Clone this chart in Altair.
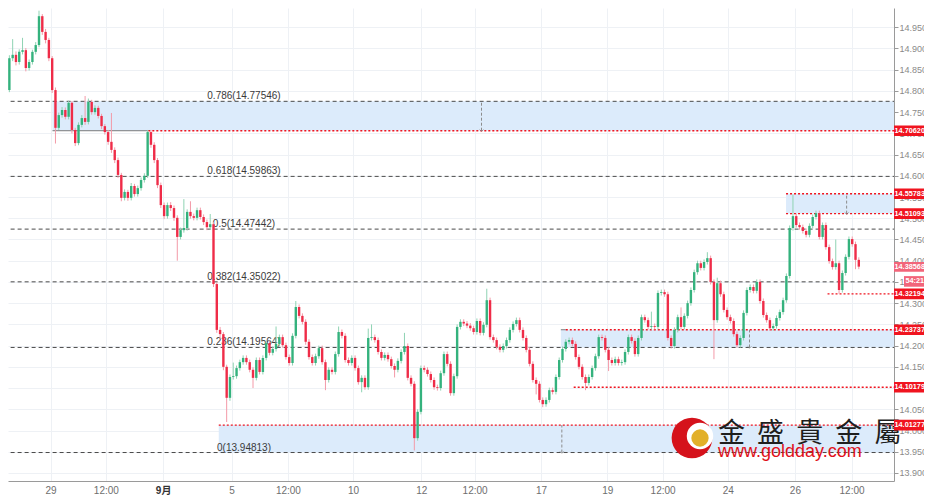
import altair as alt
import pandas as pd

# ---------------- data ----------------
first_open = 14.780
closes = [
    14.802, 14.877, 14.885, 14.868, 14.892, 14.896, 14.854, 14.868, 14.892, 14.908,
    14.976, 14.939, 14.920, 14.877, 14.802, 14.713, 14.743, 14.755, 14.739, 14.772,
    14.708, 14.677, 14.720, 14.736, 14.727, 14.774, 14.750, 14.760, 14.741, 14.717,
    14.703, 14.680, 14.661, 14.637, 14.602, 14.548, 14.562, 14.548, 14.576, 14.557,
    14.571, 14.590, 14.600, 14.703, 14.673, 14.637, 14.578, 14.531, 14.505, 14.531,
    14.524, 14.501, 14.456, 14.472, 14.477, 14.515, 14.505, 14.501, 14.519, 14.503,
    14.491, 14.479, 14.486, 14.345, 14.237, 14.227, 14.150, 14.077, 14.126, 14.128,
    14.147, 14.161, 14.171, 14.161, 14.143, 14.124, 14.166, 14.138, 14.171, 14.206,
    14.183, 14.192, 14.204, 14.220, 14.201, 14.173, 14.159, 14.223, 14.291, 14.270,
    14.256, 14.209, 14.173, 14.159, 14.175, 14.194, 14.161, 14.119, 14.143, 14.138,
    14.180, 14.232, 14.223, 14.166, 14.159, 14.171, 14.147, 14.114, 14.124, 14.102,
    14.218, 14.220, 14.213, 14.185, 14.171, 14.178, 14.168, 14.152, 14.143, 14.164,
    14.185, 14.199, 14.124, 14.110, 13.982, 14.044, 14.147, 14.143, 14.133, 14.119,
    14.102, 14.100, 14.135, 14.180, 14.157, 14.088, 14.128, 14.244, 14.256, 14.252,
    14.247, 14.241, 14.232, 14.258, 14.230, 14.249, 14.307, 14.220, 14.213, 14.197,
    14.190, 14.199, 14.213, 14.237, 14.251, 14.260, 14.237, 14.218, 14.190, 14.157,
    14.119, 14.110, 14.072, 14.062, 14.072, 14.095, 14.091, 14.126, 14.166, 14.192,
    14.209, 14.213, 14.204, 14.173, 14.150, 14.126, 14.112, 14.126, 14.147, 14.175,
    14.220, 14.218, 14.190, 14.166, 14.159, 14.168, 14.159, 14.161, 14.185, 14.220,
    14.211, 14.180, 14.218, 14.267, 14.260, 14.244, 14.246, 14.244, 14.324, 14.326,
    14.321, 14.218, 14.199, 14.237, 14.267, 14.244, 14.270, 14.300, 14.331, 14.373,
    14.394, 14.383, 14.397, 14.406, 14.350, 14.260, 14.347, 14.321, 14.284, 14.267,
    14.258, 14.227, 14.201, 14.218, 14.277, 14.331, 14.338, 14.329, 14.350, 14.305,
    14.272, 14.260, 14.241, 14.246, 14.265, 14.279, 14.307, 14.364, 14.477, 14.505,
    14.484, 14.479, 14.470, 14.461, 14.482, 14.503, 14.512, 14.456, 14.484, 14.432,
    14.399, 14.385, 14.394, 14.331, 14.371, 14.409, 14.451, 14.439, 14.402, 14.386,
]
highs = [
    14.812, 14.884, 14.922, 14.893, 14.898, 14.925, 14.901, 14.874, 14.897, 14.915,
    14.989, 14.981, 14.946, 14.925, 14.882, 14.808, 14.749, 14.762, 14.761, 14.777,
    14.776, 14.713, 14.726, 14.743, 14.788, 14.782, 14.779, 14.766, 14.765, 14.746,
    14.722, 14.708, 14.748, 14.667, 14.643, 14.607, 14.568, 14.567, 14.583, 14.581,
    14.577, 14.596, 14.606, 14.708, 14.708, 14.679, 14.642, 14.584, 14.537, 14.537,
    14.538, 14.530, 14.507, 14.478, 14.545, 14.521, 14.540, 14.511, 14.525, 14.525,
    14.509, 14.497, 14.510, 14.491, 14.350, 14.244, 14.232, 14.155, 14.132, 14.160,
    14.153, 14.167, 14.177, 14.177, 14.167, 14.149, 14.172, 14.172, 14.177, 14.212,
    14.212, 14.198, 14.245, 14.226, 14.226, 14.207, 14.179, 14.229, 14.305, 14.297,
    14.276, 14.262, 14.215, 14.179, 14.181, 14.200, 14.200, 14.167, 14.149, 14.149,
    14.186, 14.245, 14.238, 14.229, 14.172, 14.177, 14.177, 14.153, 14.130, 14.130,
    14.240, 14.250, 14.226, 14.219, 14.191, 14.184, 14.184, 14.174, 14.158, 14.170,
    14.191, 14.230, 14.205, 14.130, 14.116, 14.050, 14.153, 14.153, 14.149, 14.139,
    14.125, 14.108, 14.141, 14.186, 14.186, 14.163, 14.134, 14.250, 14.262, 14.262,
    14.258, 14.253, 14.247, 14.264, 14.264, 14.255, 14.334, 14.313, 14.226, 14.219,
    14.203, 14.205, 14.219, 14.243, 14.257, 14.266, 14.266, 14.243, 14.224, 14.196,
    14.163, 14.125, 14.116, 14.078, 14.078, 14.101, 14.101, 14.132, 14.172, 14.198,
    14.215, 14.219, 14.219, 14.210, 14.179, 14.156, 14.132, 14.132, 14.153, 14.181,
    14.226, 14.226, 14.224, 14.196, 14.172, 14.174, 14.174, 14.167, 14.191, 14.226,
    14.226, 14.217, 14.224, 14.273, 14.273, 14.266, 14.280, 14.252, 14.330, 14.332,
    14.332, 14.327, 14.224, 14.243, 14.273, 14.290, 14.276, 14.306, 14.337, 14.379,
    14.400, 14.400, 14.403, 14.420, 14.412, 14.356, 14.360, 14.353, 14.327, 14.290,
    14.273, 14.264, 14.233, 14.224, 14.283, 14.337, 14.344, 14.344, 14.356, 14.356,
    14.311, 14.278, 14.266, 14.252, 14.271, 14.285, 14.313, 14.370, 14.483, 14.556,
    14.511, 14.490, 14.485, 14.476, 14.488, 14.509, 14.518, 14.518, 14.490, 14.490,
    14.438, 14.405, 14.450, 14.400, 14.377, 14.415, 14.457, 14.457, 14.445, 14.408,
]
lows = [
    14.772, 14.797, 14.870, 14.860, 14.862, 14.886, 14.846, 14.848, 14.862, 14.886,
    14.903, 14.932, 14.912, 14.870, 14.795, 14.676, 14.708, 14.737, 14.733, 14.733,
    14.700, 14.670, 14.672, 14.714, 14.720, 14.721, 14.744, 14.744, 14.735, 14.710,
    14.697, 14.673, 14.654, 14.630, 14.595, 14.540, 14.542, 14.541, 14.542, 14.551,
    14.551, 14.565, 14.584, 14.595, 14.666, 14.630, 14.571, 14.524, 14.498, 14.499,
    14.517, 14.494, 14.400, 14.450, 14.466, 14.471, 14.499, 14.495, 14.495, 14.497,
    14.484, 14.472, 14.473, 14.338, 14.230, 14.215, 14.142, 14.020, 14.070, 14.120,
    14.122, 14.141, 14.155, 14.155, 14.137, 14.100, 14.118, 14.132, 14.132, 14.165,
    14.177, 14.177, 14.186, 14.198, 14.195, 14.167, 14.153, 14.153, 14.217, 14.264,
    14.250, 14.202, 14.167, 14.153, 14.153, 14.169, 14.155, 14.095, 14.113, 14.132,
    14.132, 14.174, 14.217, 14.160, 14.153, 14.153, 14.141, 14.108, 14.090, 14.096,
    14.096, 14.212, 14.207, 14.179, 14.165, 14.165, 14.162, 14.146, 14.125, 14.137,
    14.158, 14.179, 14.118, 14.104, 13.953, 13.976, 14.038, 14.137, 14.127, 14.113,
    14.096, 14.094, 14.094, 14.129, 14.151, 14.082, 14.082, 14.122, 14.238, 14.246,
    14.241, 14.235, 14.226, 14.226, 14.224, 14.224, 14.243, 14.214, 14.207, 14.191,
    14.184, 14.184, 14.193, 14.207, 14.231, 14.245, 14.231, 14.212, 14.184, 14.151,
    14.113, 14.085, 14.066, 14.055, 14.056, 14.066, 14.085, 14.085, 14.120, 14.160,
    14.186, 14.203, 14.198, 14.167, 14.144, 14.120, 14.095, 14.106, 14.120, 14.141,
    14.169, 14.212, 14.184, 14.140, 14.153, 14.153, 14.153, 14.153, 14.155, 14.179,
    14.205, 14.174, 14.174, 14.212, 14.254, 14.238, 14.238, 14.238, 14.238, 14.318,
    14.315, 14.212, 14.193, 14.193, 14.231, 14.238, 14.238, 14.264, 14.294, 14.325,
    14.367, 14.377, 14.377, 14.391, 14.344, 14.168, 14.254, 14.315, 14.278, 14.261,
    14.252, 14.221, 14.195, 14.195, 14.212, 14.271, 14.325, 14.323, 14.323, 14.299,
    14.266, 14.254, 14.235, 14.235, 14.240, 14.259, 14.273, 14.301, 14.358, 14.471,
    14.478, 14.473, 14.464, 14.455, 14.455, 14.476, 14.497, 14.450, 14.450, 14.426,
    14.393, 14.379, 14.379, 14.322, 14.325, 14.365, 14.403, 14.433, 14.380, 14.380,
]

# x-axis tick positions (in candle index units) and their labels
tick_pos = [13.5, 30.3, 47.7, 68.5, 85.6, 105.4, 126.1, 142.3, 162.5, 182.6, 199.4, 219.2, 239.6, 256.8]
tick_labels = ["29", "12:00", "9月", "5", "12:00", "10", "12", "12:00", "17", "19", "12:00", "24", "26", "12:00"]
y_ticks = [13.90, 13.95, 14.00, 14.05, 14.10, 14.15, 14.20, 14.25, 14.30, 14.35, 14.40, 14.45,
           14.50, 14.55, 14.60, 14.65, 14.70, 14.75, 14.80, 14.85, 14.90, 14.95, 15.00]

# Fibonacci retracement levels
fib_ratios = ["1", "0.786", "0.618", "0.5", "0.382", "0.236", "0"]
fib_prices = [15.00071, 14.77546, 14.59863, 14.47442, 14.35022, 14.19564, 13.94813]

# shaded zones (start index, low, high) and their measuring lines
zone_start = [14.1, 236.9, 168.5, 64.6]
zone_lo = [14.70620, 14.51093, 14.19564, 13.94813]
zone_hi = [14.77546, 14.55783, 14.23737, 14.01277]
measure_t = [144.4, 255.3, 225.8, 168.8]

# red dotted levels (price, start index)
level_prices = [14.70620, 14.55783, 14.51093, 14.32194, 14.23737, 14.10179, 14.01277]
level_start = [43.2, 236.9, 236.9, 249.5, 170.0, 172.4, 64.6]

# gray solid segments (start, end, price)
seg_start = [14.1, 168.5]
seg_end = [43.2, 170.0]
seg_price = [14.70620, 14.23737]

last_price = 14.38568
countdown = "54:21"

# ---------------- frames ----------------
n = min(len(closes), len(highs), len(lows))
closes, highs, lows = closes[:n], highs[:n], lows[:n]
opens = [first_open] + closes[:-1]
candles = pd.DataFrame({
    "t": list(range(n)), "open": opens, "high": highs, "low": lows, "close": closes,
})

X_DOM = [2.102, 268.17]
Y_DOM = [13.88104, 14.99529]
T_END = 270.0
xs = alt.Scale(domain=X_DOM, nice=False, zero=False)
ys = alt.Scale(domain=Y_DOM, nice=False, zero=False)

fib = pd.DataFrame({"price": fib_prices, "t0": -5.0, "t1": T_END,
                    "label": [f"{r}({p:.5f})" for r, p in zip(fib_ratios, fib_prices)]})
zones = pd.DataFrame({"t0": zone_start, "t1": T_END, "lo": zone_lo, "hi": zone_hi, "tm": measure_t})
levels = pd.DataFrame({"price": level_prices, "t0": level_start, "t1": T_END,
                       "label": [f"{p:.5f}" for p in level_prices]})
segs = pd.DataFrame({"t0": seg_start, "t1": seg_end, "price": seg_price})
cur = pd.DataFrame({"price": [last_price], "label": [f"{last_price:.5f}"], "cd": [countdown]})

vals_js = "[" + ",".join(str(v) for v in tick_pos) + "]"
labs_js = "[" + ",".join(f"'{l}'" for l in tick_labels) + "]"
x_axis = alt.Axis(
    values=tick_pos, labelExpr=f"{labs_js}[indexof({vals_js}, datum.value)]",
    grid=True, gridColor="#eef1f5", ticks=False, domainColor="#9a9a9a",
    labelColor={"condition": {"test": "datum.value == 47.7", "value": "#333333"}, "value": "#6e6e6e"},
    labelFontWeight={"condition": {"test": "datum.value == 47.7", "value": "bold"}, "value": "normal"},
    labelFontSize=10, labelFont="Liberation Sans, Noto Sans CJK SC", labelPadding=4,
    title=None, labelOverlap=False, labelFlush=False, orient="bottom",
)
y_axis = alt.Axis(
    orient="right", values=y_ticks, format=".5f", grid=True, gridColor="#eef1f5",
    tickSize=4, tickColor="#9a9a9a", domainColor="#9a9a9a", labelColor="#8a8a8a",
    labelFontSize=9, labelFont="Liberation Sans", labelPadding=1, title=None,
    labelOverlap=False, labelFlush=False,
)


def X(field):
    return alt.X(field, scale=xs, axis=x_axis)


def Y(field):
    return alt.Y(field, scale=ys, axis=y_axis)


RED = "#f0141f"
PINK = "#f2657a"

zone_layer = alt.Chart(zones).mark_rect(color="#dcebfb", clip=True).encode(
    x=X("t0:Q"), x2="t1:Q", y=Y("lo:Q"), y2="hi:Q",
)
fib_layer = alt.Chart(fib).mark_rule(color="#4a4a4a", strokeDash=[4, 3], strokeWidth=1, clip=True).encode(
    x=X("t0:Q"), x2="t1:Q", y=Y("price:Q"),
)
fib_text = alt.Chart(fib).mark_text(align="center", baseline="alphabetic", dy=-2, fontSize=10,
                                    font="Liberation Sans", color="#3a3a3a").encode(
    x=alt.value(236), y=Y("price:Q"), text="label:N",
)
seg_layer = alt.Chart(segs).mark_rule(color="#7a7a7a", strokeWidth=1, clip=True).encode(
    x=X("t0:Q"), x2="t1:Q", y=Y("price:Q"),
)
level_layer = alt.Chart(levels).mark_rule(color=RED, strokeDash=[2, 2], strokeWidth=1.4, clip=True).encode(
    x=X("t0:Q"), x2="t1:Q", y=Y("price:Q"),
)
measure_layer = alt.Chart(zones).mark_rule(color="#8c8c8c", strokeDash=[3, 2], strokeWidth=1, clip=True).encode(
    x=X("tm:Q"), y=Y("lo:Q"), y2="hi:Q",
)
arrow_layer = alt.Chart(zones).mark_point(shape="M -1 -0.6 L 0 0.4 L 1 -0.6", filled=False,
                                          color="#7a7a7a", size=14, strokeWidth=1, clip=True).encode(
    x=X("tm:Q"), y=Y("lo:Q"),
)

up_test = "datum.close >= datum.open"
wicks = alt.Chart(candles).mark_rule(strokeWidth=1, clip=True).encode(
    x=X("t:Q"), y=Y("low:Q"), y2="high:Q",
    color=alt.condition(up_test, alt.value("#8fd3b3"), alt.value("#f39aa8")),
)
bodies = alt.Chart(candles).mark_bar(size=2.4, clip=True).encode(
    x=X("t:Q"), y=Y("open:Q"), y2="close:Q",
    color=alt.condition(up_test, alt.value("#34b27d"), alt.value("#ef2c48")),
)

# watermark
wm = pd.DataFrame({"k": [0]})
logo_red = alt.Chart(wm).mark_circle(color="#d5121b", size=1660, opacity=1).encode(
    x=alt.value(684), y=alt.value(430))
logo_white = alt.Chart(wm).mark_circle(color="#ffffff", size=700, opacity=1).encode(
    x=alt.value(692), y=alt.value(428))
logo_gold = alt.Chart(wm).mark_circle(color="#e2b029", size=300, opacity=1).encode(
    x=alt.value(692), y=alt.value(430))
wm_cn = alt.Chart(wm).mark_text(text="金\u00a0\u00a0盛\u00a0\u00a0貴\u00a0\u00a0金\u00a0\u00a0屬",
                                align="left", baseline="middle", fontSize=27,
                                font="Noto Sans CJK TC", color="#1e1e1e").encode(
    x=alt.value(710), y=alt.value(426))
wm_url = alt.Chart(wm).mark_text(text="www.goldday.com", align="left", baseline="alphabetic",
                                 fontSize=18, font="Liberation Sans", color="#e0101a").encode(
    x=alt.value(710), y=alt.value(449))

# right-side price boxes
BOX_FONT = "Liberation Sans"
BOX_FS = 7.3
box_rect = alt.Chart(levels).transform_calculate(
    a="datum.price + 0.0125", b="datum.price - 0.0125").mark_rect(color=RED).encode(
    x=alt.value(886), x2=alt.value(920), y=Y("a:Q"), y2="b:Q",
)
box_text = alt.Chart(levels).mark_text(align="left", baseline="middle", fontSize=BOX_FS,
                                       fontWeight="bold", font=BOX_FONT, color="white").encode(
    x=alt.value(886.5), y=Y("price:Q"), text="label:N",
)
cur_rect = alt.Chart(cur).transform_calculate(
    a="datum.price + 0.0115", b="datum.price - 0.0115").mark_rect(color=PINK).encode(
    x=alt.value(886), x2=alt.value(920), y=Y("a:Q"), y2="b:Q",
)
cur_text = alt.Chart(cur).mark_text(align="left", baseline="middle", fontSize=BOX_FS,
                                    fontWeight="bold", font=BOX_FONT, color="white").encode(
    x=alt.value(886.5), y=Y("price:Q"), text="label:N",
)
cd_rect = alt.Chart(cur).transform_calculate(
    a="datum.price - 0.022", b="datum.price - 0.047").mark_rect(color=PINK).encode(
    x=alt.value(896), x2=alt.value(920), y=Y("a:Q"), y2="b:Q",
)
cd_text = alt.Chart(cur).transform_calculate(c="datum.price - 0.0345").mark_text(
    align="left", baseline="middle", fontSize=BOX_FS, fontWeight="bold",
    font=BOX_FONT, color="white").encode(
    x=alt.value(897.5), y=Y("c:Q"), text="cd:N",
)

chart = alt.layer(
    zone_layer, fib_layer, seg_layer, level_layer, measure_layer, arrow_layer, fib_text,
    wicks, bodies,
    logo_red, logo_white, logo_gold, wm_cn, wm_url,
    box_rect, box_text, cur_rect, cur_text, cd_rect, cd_text,
).properties(
    width=886, height=473,
    autosize=alt.AutoSizeParams(type="none"),
    padding={"left": 0, "top": 0, "right": 30, "bottom": 16},
    background="white",
).configure_view(strokeWidth=0)

chart.save("out.html", embed_options={"renderer": "svg", "actions": False})
